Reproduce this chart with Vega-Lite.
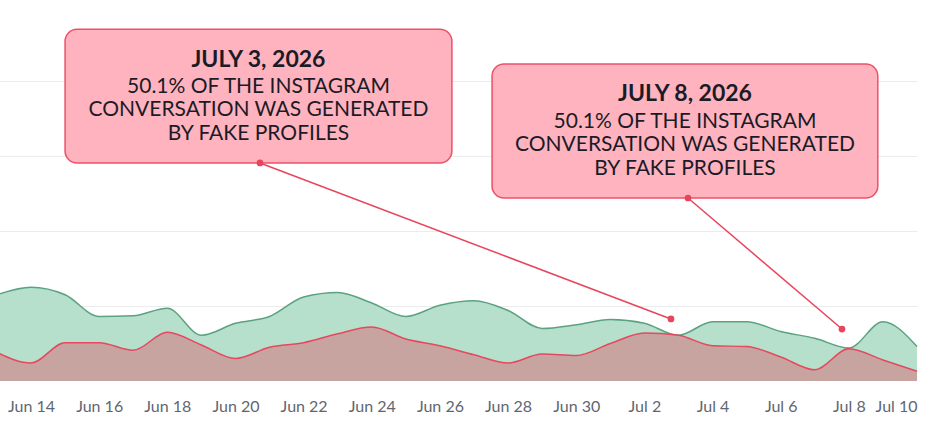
{
  "$schema": "https://vega.github.io/schema/vega-lite/v6.json",
  "width": 917,
  "height": 375,
  "autosize": {"type": "none"},
  "padding": {"left": 0, "top": 6, "right": 15, "bottom": 43},
  "background": "white",
  "config": {"view": {"stroke": null}, "font": "Lato"},
  "datasets": {
    "conversation": [
      {"date": "2026-06-13T00:00:00Z", "total": 1.15, "fake": 0.38},
      {"date": "2026-06-14T00:00:00Z", "total": 1.25, "fake": 0.24},
      {"date": "2026-06-15T00:00:00Z", "total": 1.15, "fake": 0.51},
      {"date": "2026-06-16T00:00:00Z", "total": 0.86, "fake": 0.51},
      {"date": "2026-06-17T00:00:00Z", "total": 0.87, "fake": 0.41},
      {"date": "2026-06-18T00:00:00Z", "total": 0.97, "fake": 0.65},
      {"date": "2026-06-19T00:00:00Z", "total": 0.61, "fake": 0.48},
      {"date": "2026-06-20T00:00:00Z", "total": 0.77, "fake": 0.30},
      {"date": "2026-06-21T00:00:00Z", "total": 0.86, "fake": 0.45},
      {"date": "2026-06-22T00:00:00Z", "total": 1.12, "fake": 0.51},
      {"date": "2026-06-23T00:00:00Z", "total": 1.18, "fake": 0.63},
      {"date": "2026-06-24T00:00:00Z", "total": 1.04, "fake": 0.72},
      {"date": "2026-06-25T00:00:00Z", "total": 0.86, "fake": 0.56},
      {"date": "2026-06-26T00:00:00Z", "total": 1.01, "fake": 0.47},
      {"date": "2026-06-27T00:00:00Z", "total": 1.07, "fake": 0.35},
      {"date": "2026-06-28T00:00:00Z", "total": 0.94, "fake": 0.24},
      {"date": "2026-06-29T00:00:00Z", "total": 0.70, "fake": 0.36},
      {"date": "2026-06-30T00:00:00Z", "total": 0.75, "fake": 0.34},
      {"date": "2026-07-01T00:00:00Z", "total": 0.82, "fake": 0.50},
      {"date": "2026-07-02T00:00:00Z", "total": 0.77, "fake": 0.64},
      {"date": "2026-07-03T00:00:00Z", "total": 0.61, "fake": 0.61},
      {"date": "2026-07-04T00:00:00Z", "total": 0.79, "fake": 0.47},
      {"date": "2026-07-05T00:00:00Z", "total": 0.79, "fake": 0.46},
      {"date": "2026-07-06T00:00:00Z", "total": 0.66, "fake": 0.32},
      {"date": "2026-07-07T00:00:00Z", "total": 0.57, "fake": 0.15},
      {"date": "2026-07-08T00:00:00Z", "total": 0.44, "fake": 0.43},
      {"date": "2026-07-09T00:00:00Z", "total": 0.79, "fake": 0.28},
      {"date": "2026-07-10T00:00:00Z", "total": 0.46, "fake": 0.13}
    ],
    "boxes": [
      {"date": "2026-06-15T00:00:00Z", "date2": "2026-06-26T08:26:00Z", "v": 4.69, "v2": 2.907},
      {"date": "2026-06-27T12:43:00Z", "date2": "2026-07-08T20:24:00Z", "v": 4.227, "v2": 2.44}
    ],
    "links": [
      {"date": "2026-06-20T17:17:00Z", "v": 2.907, "date2": "2026-07-02T18:43:00Z", "v2": 0.827},
      {"date": "2026-07-03T06:43:00Z", "v": 2.44, "date2": "2026-07-07T19:10:00Z", "v2": 0.693}
    ],
    "dots": [
      {"date": "2026-06-20T17:17:00Z", "v": 2.907},
      {"date": "2026-07-02T18:43:00Z", "v": 0.827},
      {"date": "2026-07-03T06:43:00Z", "v": 2.44},
      {"date": "2026-07-07T19:10:00Z", "v": 0.693}
    ],
    "notes": [
      {"date": "2026-06-20T16:12:00Z", "vt": 4.28, "vb": 3.924, "title": "JULY 3, 2026", "body": "50.1% OF THE INSTAGRAM\nCONVERSATION WAS GENERATED\nBY FAKE PROFILES"},
      {"date": "2026-07-03T04:36:00Z", "vt": 3.823, "vb": 3.457, "title": "JULY 8, 2026", "body": "50.1% OF THE INSTAGRAM\nCONVERSATION WAS GENERATED\nBY FAKE PROFILES"}
    ]
  },
  "encoding": {
    "x": {
      "field": "date",
      "type": "temporal",
      "title": null,
      "scale": {
        "type": "utc",
        "domain": [
          {"year": 2026, "month": "jun", "date": 13, "hours": 2, "minutes": 10, "utc": true},
          {"year": 2026, "month": "jul", "date": 10, "utc": true}
        ]
      },
      "axis": {
        "values": [
          {"year": 2026, "month": "jun", "date": 14, "utc": true},
          {"year": 2026, "month": "jun", "date": 16, "utc": true},
          {"year": 2026, "month": "jun", "date": 18, "utc": true},
          {"year": 2026, "month": "jun", "date": 20, "utc": true},
          {"year": 2026, "month": "jun", "date": 22, "utc": true},
          {"year": 2026, "month": "jun", "date": 24, "utc": true},
          {"year": 2026, "month": "jun", "date": 26, "utc": true},
          {"year": 2026, "month": "jun", "date": 28, "utc": true},
          {"year": 2026, "month": "jun", "date": 30, "utc": true},
          {"year": 2026, "month": "jul", "date": 2, "utc": true},
          {"year": 2026, "month": "jul", "date": 4, "utc": true},
          {"year": 2026, "month": "jul", "date": 6, "utc": true},
          {"year": 2026, "month": "jul", "date": 8, "utc": true},
          {"year": 2026, "month": "jul", "date": 10, "utc": true}
        ],
        "format": "%b %-d",
        "domain": false,
        "ticks": false,
        "grid": false,
        "labelFont": "Lato",
        "labelFontSize": 16,
        "labelColor": "#5f6670",
        "labelPadding": 17,
        "labelFlush": true
      }
    },
    "y": {
      "field": "v",
      "type": "quantitative",
      "title": null,
      "scale": {"domain": [0, 5], "nice": false},
      "axis": {
        "values": [1, 2, 3, 4],
        "labels": false,
        "ticks": false,
        "domain": false,
        "grid": true,
        "gridColor": "#ececec",
        "gridWidth": 1
      }
    }
  },
  "layer": [
    {
      "data": {"name": "conversation"},
      "transform": [
        {"fold": ["total", "fake"], "as": ["series", "v"]},
        {"filter": "datum.series == 'total'"}
      ],
      "mark": {
        "type": "area",
        "interpolate": "monotone",
        "color": "#b6e0cb",
        "opacity": 1,
        "line": {"color": "#5ba282", "strokeWidth": 1.5}
      }
    },
    {
      "data": {"name": "conversation"},
      "transform": [
        {"fold": ["total", "fake"], "as": ["series", "v"]},
        {"filter": "datum.series == 'fake'"}
      ],
      "mark": {
        "type": "area",
        "interpolate": "monotone",
        "color": "#c8a4a0",
        "opacity": 1,
        "line": {"color": "#e5485f", "strokeWidth": 1.5}
      }
    },
    {
      "data": {"name": "links"},
      "mark": {"type": "rule", "color": "#e8455d", "strokeWidth": 1.5},
      "encoding": {
        "x2": {"field": "date2"},
        "y2": {"field": "v2"}
      }
    },
    {
      "data": {"name": "boxes"},
      "mark": {
        "type": "rect",
        "cornerRadius": 12,
        "fill": "#ffb3be",
        "stroke": "#ee5068",
        "strokeWidth": 1.5
      },
      "encoding": {
        "x2": {"field": "date2"},
        "y2": {"field": "v2"}
      }
    },
    {
      "data": {"name": "notes"},
      "mark": {
        "type": "text",
        "font": "Lato",
        "fontSize": 23,
        "fontWeight": "bold",
        "color": "#1b1b27",
        "align": "center",
        "baseline": "middle"
      },
      "encoding": {
        "y": {"field": "vt", "type": "quantitative"},
        "text": {"field": "title"}
      }
    },
    {
      "data": {"name": "notes"},
      "mark": {
        "type": "text",
        "font": "Lato",
        "fontSize": 21,
        "color": "#1b1b27",
        "align": "center",
        "baseline": "middle",
        "lineBreak": "\n",
        "lineHeight": 23.5
      },
      "encoding": {
        "y": {"field": "vb", "type": "quantitative"},
        "text": {"field": "body"}
      }
    },
    {
      "data": {"name": "dots"},
      "mark": {"type": "circle", "color": "#e8455d", "size": 45, "opacity": 1}
    }
  ]
}
